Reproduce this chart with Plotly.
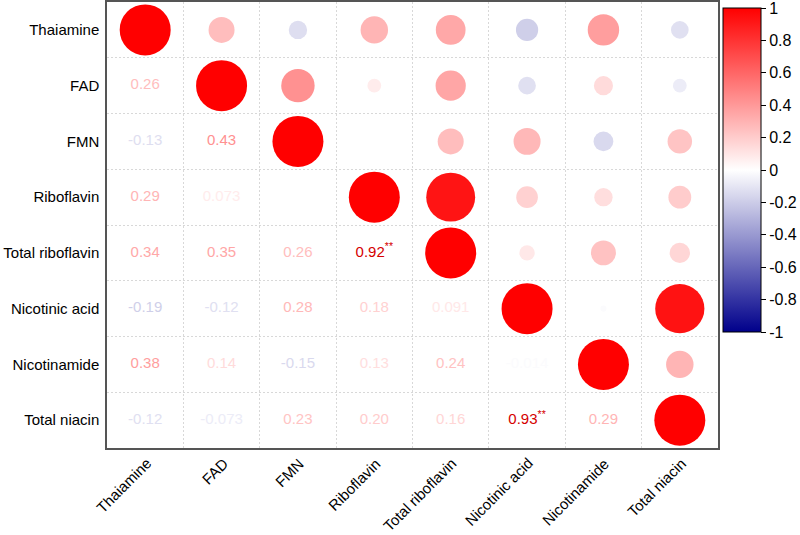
import plotly.graph_objects as go
from plotly.colors import sample_colorscale
import math

labels = ["Thaiamine", "FAD", "FMN", "Riboflavin", "Total riboflavin",
          "Nicotinic acid", "Nicotinamide", "Total niacin"]

# lower-triangle correlation values (row i, columns 0..i-1)
r_fad = [0.26]
r_fmn = [-0.13, 0.43]
r_ribo = [0.29, 0.073, None]
r_totribo = [0.34, 0.35, 0.26, 0.92]
r_nicacid = [-0.19, -0.12, 0.28, 0.18, 0.091]
r_nicamide = [0.38, 0.14, -0.15, 0.13, 0.24, -0.014]
r_totniacin = [-0.12, -0.073, 0.23, 0.20, 0.16, 0.93, 0.29]

lower_rows = [[], r_fad, r_fmn, r_ribo, r_totribo, r_nicacid, r_nicamide, r_totniacin]

# significance marks: (row, col) -> mark
signif = {(4, 3): "**", (7, 5): "**"}

cbar_ticks = [1, 0.8, 0.6, 0.4, 0.2, 0, -0.2, -0.4, -0.6, -0.8, -1]
cbar_ticktext = ["1", "0.8", "0.6", "0.4", "0.2", "0", "-0.2", "-0.4", "-0.6", "-0.8", "-1"]

colorscale = [[0.0, "#00008B"], [0.5, "#FFFFFF"], [1.0, "#FF0000"]]
n = len(labels)
FONT = "Liberation Sans, Arial, sans-serif"

def val(i, j):
    if i == j:
        return 1.0
    a, b = (i, j) if i > j else (j, i)
    return lower_rows[a][b]

def fmt(v):
    if abs(v) >= 0.1:
        return f"{v:.2f}"
    return f"{v:.2g}"

# circles: upper triangle incl. diagonal (row i, col j>=i)
cx, cy, cc, cs = [], [], [], []
for i in range(n):
    for j in range(i, n):
        v = val(i, j)
        if v is None:
            continue
        cx.append(j); cy.append(i); cc.append(v)
        cs.append(51 * math.sqrt(abs(v)))

# text: lower triangle
tx, ty, tt, tcol = [], [], [], []
for i in range(n):
    for j in range(i):
        v = val(i, j)
        if v is None:
            continue
        s = fmt(v)
        if (i, j) in signif:
            s += "<sup>" + signif[(i, j)] + "</sup>"
        tx.append(j); ty.append(i); tt.append(s)
        c = sample_colorscale(colorscale, [(v + 1) / 2])[0]
        if abs(v) > 0.85:
            c = "#D50000"
        tcol.append(c)

fig = go.Figure()
fig.add_trace(go.Scatter(
    x=cx, y=cy, mode="markers",
    marker=dict(size=cs, sizemode="diameter", color=cc, cmin=-1, cmax=1,
                colorscale=colorscale, line=dict(width=0), opacity=1,
                colorbar=dict(
                    x=1.008, xanchor="left", xpad=0,
                    y=1 - 6 / 446, yanchor="top", ypad=0,
                    len=0.726, lenmode="fraction", thickness=38,
                    outlinecolor="black", outlinewidth=1,
                    ticks="outside", ticklen=5, tickcolor="black",
                    tickmode="array", ticklabeloverflow="allow",
                    tickvals=cbar_ticks, ticktext=cbar_ticktext,
                    tickfont=dict(family=FONT, size=16, color="black"),
                )),
    hoverinfo="skip", showlegend=False,
))
fig.add_trace(go.Scatter(
    x=tx, y=ty, mode="text", text=tt,
    textfont=dict(family=FONT, size=15, color=tcol),
    hoverinfo="skip", showlegend=False,
))

grid_vals = [k + 0.5 for k in range(n - 1)]
axis_common = dict(
    showline=True, mirror=True, linecolor="#555555", linewidth=1.5,
    showgrid=False, zeroline=False, ticks="",
    tickfont=dict(family=FONT, size=15, color="black"),
    minor=dict(tickvals=grid_vals, showgrid=True, gridcolor="#d8d8d8",
               griddash="2px,2px", gridwidth=1, ticks=""),
)
fig.update_xaxes(range=[-0.5, n - 0.5], tickvals=list(range(n)), ticktext=labels,
                 showticklabels=False, **axis_common)
fig.update_yaxes(range=[n - 0.5, -0.5], tickvals=list(range(n)), ticktext=labels,
                 ticklabelstandoff=3, **axis_common)

for j, lab in enumerate(labels):
    fig.add_annotation(
        x=j, xref="x", y=0, yref="paper", text=lab, showarrow=False,
        textangle=-45, xanchor="right", yanchor="top", xshift=12, yshift=-4,
        font=dict(family=FONT, size=15, color="black"),
    )

fig.update_layout(
    width=800, height=535,
    margin=dict(l=107, r=82, t=2, b=87, autoexpand=False),
    plot_bgcolor="white", paper_bgcolor="white",
    font=dict(family=FONT, color="black"),
)
fig.write_html("out.html")
